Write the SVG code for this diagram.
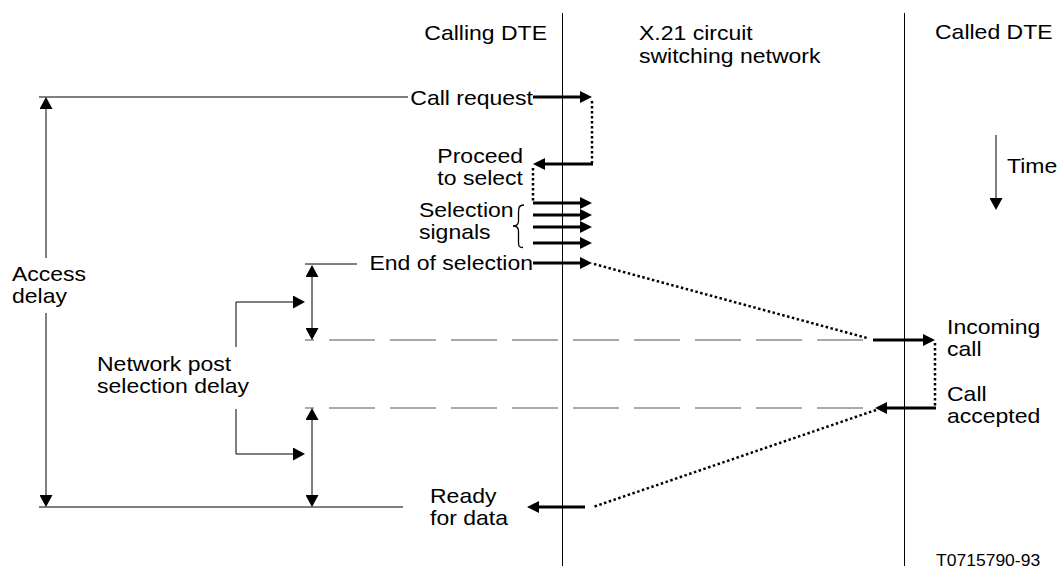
<svg xmlns="http://www.w3.org/2000/svg" width="1061" height="569" viewBox="0 0 1061 569">
<style>
text{font-family:"Liberation Sans",Arial,sans-serif;font-size:21px;fill:#000}
.small{font-size:16px}
.end{text-anchor:end}
.life{stroke:#000;stroke-width:1;fill:none}
.thin{stroke:#000;stroke-width:1;fill:none}
.thick{stroke:#000;stroke-width:3;fill:none}
.dot{stroke:#000;stroke-width:2.5;stroke-dasharray:2.5 2.5;fill:none}
.dash{stroke:#555;stroke-width:1.2;stroke-dasharray:46 15;stroke-dashoffset:37;fill:none}
</style>
<defs>
<marker id="ah" markerUnits="userSpaceOnUse" viewBox="0 0 12 12" markerWidth="12" markerHeight="12" refX="1" refY="6" orient="auto"><path d="M0,0 L12,6 L0,12 z" fill="#000"/></marker>
<marker id="at" markerUnits="userSpaceOnUse" viewBox="0 0 12 13" markerWidth="12" markerHeight="13" refX="1" refY="6.5" orient="auto-start-reverse"><path d="M0,0 L12,6.5 L0,13 z" fill="#000"/></marker>
</defs>

<g id="lifelines">
<line class="life" x1="562.5" y1="13" x2="562.5" y2="566"/>
<line class="life" x1="904.5" y1="13" x2="904.5" y2="566"/>
</g>

<g id="headers">
<text class="end" transform="translate(547,40) scale(1.095,1)">Calling DTE</text>
<text transform="translate(639,40) scale(1.095,1)">X.21 circuit</text>
<text transform="translate(639,63) scale(1.095,1)">switching network</text>
<text transform="translate(935,39) scale(1.095,1)">Called DTE</text>
</g>

<g id="labels">
<text class="end" transform="translate(533,105) scale(1.095,1)">Call request</text>
<text class="end" transform="translate(523,163) scale(1.095,1)">Proceed</text>
<text class="end" transform="translate(523,185) scale(1.095,1)">to select</text>
<text transform="translate(419,217) scale(1.095,1)">Selection</text>
<text transform="translate(419,239) scale(1.095,1)">signals</text>
<path d="M524,205 C518,205 518.5,209 518.5,215 L518.5,221 C518.5,224.5 517,226 513,226 C517,226 518.5,227.5 518.5,231 L518.5,240 C518.5,245 518,247.5 523,247.5" fill="none" stroke="#000" stroke-width="1.3"/>
<text class="end" transform="translate(533,270) scale(1.095,1)">End of selection</text>
<text transform="translate(947,334) scale(1.095,1)">Incoming</text>
<text transform="translate(947,356) scale(1.095,1)">call</text>
<text transform="translate(947,401) scale(1.095,1)">Call</text>
<text transform="translate(947,423) scale(1.095,1)">accepted</text>
<text transform="translate(430,503) scale(1.095,1)">Ready</text>
<text transform="translate(430,525) scale(1.095,1)">for data</text>
<text transform="translate(12,281) scale(1.095,1)">Access</text>
<text transform="translate(12,303) scale(1.095,1)">delay</text>
<text transform="translate(97,371) scale(1.095,1)">Network post</text>
<text transform="translate(97,393) scale(1.095,1)">selection delay</text>
<text transform="translate(1007,173) scale(1.095,1)">Time</text>
<text class="small" transform="translate(936,566) scale(1.095,1)">T0715790-93</text>
</g>

<g id="connectors">
<line class="thick" x1="533" y1="97" x2="581" y2="97" marker-end="url(#ah)"/>
<line class="thick" x1="593" y1="164" x2="544" y2="164" marker-end="url(#ah)"/>
<line class="thick" x1="533" y1="203" x2="581" y2="203" marker-end="url(#ah)"/>
<line class="thick" x1="533" y1="215" x2="581" y2="215" marker-end="url(#ah)"/>
<line class="thick" x1="533" y1="227" x2="581" y2="227" marker-end="url(#ah)"/>
<line class="thick" x1="533" y1="243" x2="581" y2="243" marker-end="url(#ah)"/>
<line class="thick" x1="533" y1="263" x2="581" y2="263" marker-end="url(#ah)"/>
<line class="thick" x1="873" y1="340" x2="924" y2="340" marker-end="url(#ah)"/>
<line class="thick" x1="936" y1="408" x2="886" y2="408" marker-end="url(#ah)"/>
<line class="thick" x1="585" y1="507" x2="538" y2="507" marker-end="url(#ah)"/>

<line class="dot" x1="592" y1="101" x2="592" y2="163"/>
<line class="dot" x1="533" y1="168" x2="533" y2="201"/>
<line class="dot" x1="594" y1="264" x2="867" y2="338"/>
<line class="dot" x1="935" y1="343" x2="935" y2="406"/>
<line class="dot" x1="876" y1="410" x2="593" y2="507"/>

<line class="dash" x1="305" y1="340" x2="867" y2="340"/>
<line class="dash" x1="305" y1="408" x2="867" y2="408"/>

<line class="thin" x1="39" y1="97" x2="408" y2="97"/>
<line class="thin" x1="39" y1="507" x2="403" y2="507"/>
<line class="thin" x1="305" y1="264" x2="357" y2="264"/>

<line class="thin" x1="46" y1="258" x2="46" y2="108" marker-end="url(#at)"/>
<line class="thin" x1="46" y1="313" x2="46" y2="496" marker-end="url(#at)"/>
<line class="thin" x1="312" y1="276" x2="312" y2="329" marker-start="url(#at)" marker-end="url(#at)"/>
<line class="thin" x1="312" y1="419" x2="312" y2="496" marker-start="url(#at)" marker-end="url(#at)"/>
<path class="thin" d="M236,347 V302 H294" marker-end="url(#at)"/>
<path class="thin" d="M236,409 V454 H294" marker-end="url(#at)"/>
<line class="thin" x1="996" y1="135" x2="996" y2="199" marker-end="url(#at)"/>
</g>
</svg>
